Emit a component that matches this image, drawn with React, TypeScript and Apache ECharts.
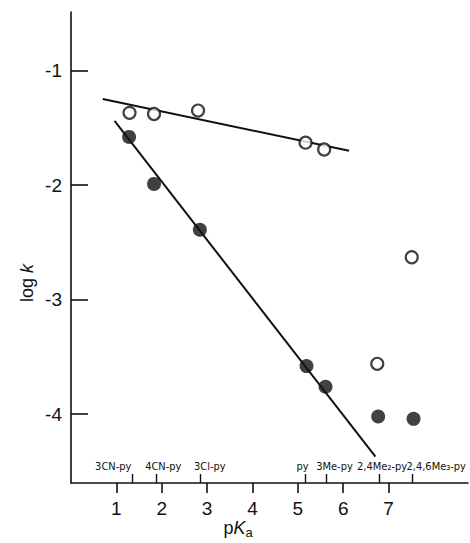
import React, { useEffect, useRef } from "react";
import * as echarts from "echarts";

// pKa values of the pyridines (upward ticks on the axis) and their names
const compoundPKa = [1.35, 1.88, 2.84, 5.17, 5.63, 6.79, 7.52];
const compoundNames = ["3CN-py", "4CN-py", "3Cl-py", "py", "3Me-py", "2,4Me₂-py", "2,4,6Me₃-py"];
// horizontal shift (px) of each name's centre relative to its tick (layout only)
const nameShiftPx = [-19, 7, 10, -3, 8, 3, 24];

// main axis ticks
const xTicks = [1, 2, 3, 4, 5, 6, 7];
const yTicks = [-4, -3, -2, -1];

// open circles
const openPoints: [number, number][] = [
  [1.29, -1.37],
  [1.83, -1.38],
  [2.8, -1.35],
  [5.17, -1.63],
  [5.58, -1.69],
  [6.75, -3.56],
  [7.51, -2.63],
];
// filled circles
const filledPoints: [number, number][] = [
  [1.28, -1.58],
  [1.83, -1.99],
  [2.84, -2.39],
  [5.19, -3.58],
  [5.61, -3.76],
  [6.77, -4.02],
  [7.55, -4.04],
];
// fitted lines (end points)
const upperFit: [number, number][] = [
  [0.7, -1.25],
  [6.13, -1.7],
];
const lowerFit: [number, number][] = [
  [0.96, -1.44],
  [6.71, -4.37],
];

const INK = "#111";
const NARROW = "'DejaVu Sans Condensed', 'Liberation Sans Narrow', 'Liberation Sans', sans-serif";
const SANS = "'Liberation Sans', 'DejaVu Sans', sans-serif";
const X_MIN = 0;
const X_MAX = 8.75;
const Y_MIN = -4.6;
const Y_MAX = -0.49;

export default function App() {
  const ref = useRef<HTMLDivElement>(null);
  useEffect(() => {
    document.body.style.margin = "0";
    const chart = echarts.init(ref.current!, null, { renderer: "svg" });
    chart.setOption({
      animation: false,
      backgroundColor: "#fff",
      grid: { left: 71, top: 12, right: 2, bottom: 60, containLabel: false, outerBoundsMode: "none" },
      xAxis: [
        {
          type: "value",
          min: X_MIN,
          max: X_MAX,
          position: "bottom",
          axisLine: { show: true, onZero: false, lineStyle: { color: INK, width: 1.6 } },
          axisTick: { show: true, inside: false, length: 10, customValues: xTicks, lineStyle: { color: INK, width: 1.6 } },
          axisLabel: { show: true, customValues: xTicks, margin: 16, fontSize: 19, color: INK, fontFamily: SANS },
          splitLine: { show: false },
        },
        {
          type: "value",
          min: X_MIN,
          max: X_MAX,
          position: "bottom",
          axisLine: { show: false },
          axisTick: { show: true, inside: true, length: 9, customValues: compoundPKa, lineStyle: { color: INK, width: 1.4 } },
          axisLabel: { show: false },
          splitLine: { show: false },
        },
      ],
      yAxis: {
        type: "value",
        min: Y_MIN,
        max: Y_MAX,
        axisLine: { show: true, onZero: false, lineStyle: { color: INK, width: 1.6 } },
        axisTick: { show: true, inside: true, length: 17, customValues: yTicks, lineStyle: { color: INK, width: 1.6 } },
        axisLabel: { show: true, customValues: yTicks, margin: 9, fontSize: 19, color: INK, fontFamily: SANS },
        splitLine: { show: false },
      },
      graphic: [
        {
          id: "ylabel",
          type: "text",
          x: 27,
          y: 283,
          rotation: Math.PI / 2,
          style: {
            text: "{a|log }{b|k}",
            align: "center",
            verticalAlign: "middle",
            rich: {
              a: { fontSize: 18, fontFamily: SANS, fill: INK },
              b: { fontSize: 18, fontFamily: SANS, fontStyle: "italic", fill: INK },
            },
          },
        },
        {
          id: "xlabel",
          type: "text",
          x: 238,
          y: 528,
          style: {
            text: "{a|p}{b|K}{c|a}",
            align: "center",
            verticalAlign: "middle",
            rich: {
              a: { fontSize: 18, fontFamily: SANS, fill: INK },
              b: { fontSize: 18, fontFamily: SANS, fontStyle: "italic", fill: INK },
              c: { fontSize: 13, fontFamily: SANS, fill: INK, padding: [8, 0, 0, 0] },
            },
          },
        },
      ],
      series: [
        {
          type: "line",
          data: upperFit,
          symbol: "none",
          lineStyle: { color: INK, width: 2 },
          z: 2,
        },
        {
          type: "line",
          data: lowerFit,
          symbol: "none",
          lineStyle: { color: INK, width: 2 },
          z: 2,
        },
        {
          type: "scatter",
          data: openPoints,
          symbol: "circle",
          symbolSize: 12,
          itemStyle: { color: "#fff", borderColor: INK, borderWidth: 2.2 },
          z: 3,
        },
        {
          type: "scatter",
          data: filledPoints,
          symbol: "circle",
          symbolSize: 14,
          itemStyle: { color: INK },
          z: 3,
        },
      ],
    });
    // compound names above the axis, placed at their pKa through the axis scale
    const axisY = chart.convertToPixel({ yAxisIndex: 0 }, Y_MIN) as number;
    const nameTexts = compoundPKa.map((p, i) => {
      const px = chart.convertToPixel({ xAxisIndex: 1 }, p) as number;
      return {
        id: "cmp" + i,
        type: "text",
        x: px + nameShiftPx[i],
        y: axisY - 17,
        style: {
          text: compoundNames[i],
          align: "center",
          verticalAlign: "middle",
          fontSize: 11,
          fontFamily: NARROW,
          fill: INK,
        },
      };
    });
    chart.setOption({ graphic: nameTexts });
    return () => chart.dispose();
  }, []);
  return <div ref={ref} style={{ width: 470, height: 543 }} />;
}
